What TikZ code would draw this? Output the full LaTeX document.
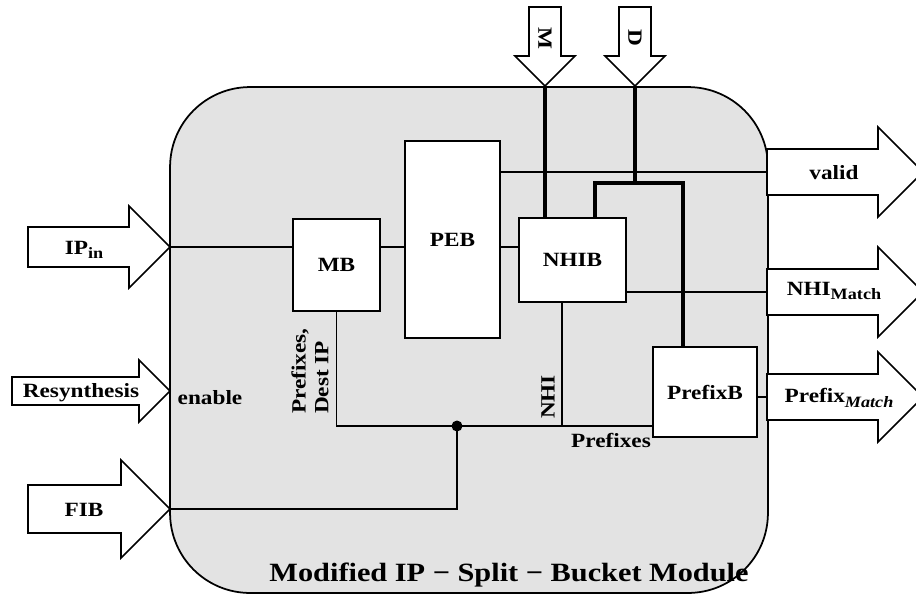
\documentclass[tikz,border=0pt]{standalone}
\usepackage{fontspec}
\setmainfont{Liberation Serif}[FakeStretch=1.15]
\usepackage{xcolor}
\usepackage{tikz}
\usetikzlibrary{positioning,calc}
\newcommand{\fatright}[4]{\draw[fatarrow] (#1) -- ++(-#2,-#2) -- ++(0,#2-#3) -- ++(-#4,0) -- ++(0,2*#3) -- ++(#4,0) -- ++(0,#2-#3) -- cycle;}
\newcommand{\fatdown}[4]{\draw[fatarrow] (#1) -- ++(-#2,-#2) -- ++(#2-#3,0) -- ++(0,-#4) -- ++(2*#3,0) -- ++(0,#4) -- ++(#2-#3,0) -- cycle;}
\newcommand{\lowsub}[1]{\raisebox{-0.45ex}{\fontsize{9}{10}\selectfont #1}}

\begin{document}
\begin{tikzpicture}[x=0.02cm, y=-0.02cm,
    every node/.style={font=\fontsize{11.5}{13}\selectfont\bfseries},
    module/.style={draw, line width=1pt, fill=black!11, rounded corners=1.6cm, minimum width=11.96cm, minimum height=10.12cm},
    block/.style={draw, line width=0.9pt, fill=white, inner sep=0pt},
    fatarrow/.style={draw, line width=0.9pt, fill=white, line join=miter},
    wire/.style={line width=0.85pt},
    thickbus/.style={line width=2.8pt, line join=miter},
    lbl/.style={inner sep=1pt}
]
\useasboundingbox (0,0) rectangle (916,596);
\node[module] (mod) at (469,340) {};
\node[block, minimum width=1.74cm, minimum height=1.84cm] (mb) at (336.5,265) {MB};
\node[block, minimum width=1.9cm, minimum height=3.94cm] (peb) at (452.5,239.5) {PEB};
\node[block, minimum width=2.14cm, minimum height=1.68cm] (nhib) at (572.5,260) {NHIB};
\node[block, minimum width=2.08cm, minimum height=1.8cm] (prefixb) at (705,392) {PrefixB};
\coordinate (ipTip) at (170,247);
\coordinate (resTip) at (170,391);
\coordinate (fibTip) at (170,509);
\coordinate (validTail) at (767,172);
\coordinate (nhiTail) at (767,292);
\coordinate (pfxTail) at (767,397);
\coordinate (validTip) at (923,172);
\coordinate (nhiTip) at (923,292);
\coordinate (pfxTip) at (923,397);
\coordinate (mTip) at (545,86);
\coordinate (dTip) at (635,86);
\coordinate (bus) at (457,426);
\coordinate (nhiDrop) at (562,426);
\coordinate (dJoin) at (635,183);
\coordinate (dLeft) at (595,183);
\coordinate (dRight) at (683,183);
\fatright{ipTip}{41}{20}{101}
\fatright{resTip}{31}{14}{127}
\fatright{fibTip}{49}{24}{93}
\fatright{validTip}{45}{23}{111}
\fatright{nhiTip}{45}{23}{111}
\fatright{pfxTip}{45}{23}{111}
\fatdown{mTip}{30}{16}{49}
\fatdown{dTip}{30}{16}{49}
\node (ipLbl) at (84,250) {IP\lowsub{in}};
\node (resLbl) at (81,393) {Resynthesis};
\node (fibLbl) at (84,510) {FIB};
\node (validLbl) at (834,173) {valid};
\node (nhiLbl) at (834,291) {NHI\lowsub{Match}};
\node (pfxLbl) at (839,398) {Prefix\lowsub{\itshape Match}};
\node[rotate=-90] (mLbl) at (545,38) {M};
\node[rotate=-90] (dLbl) at (635,38) {D};
\node (enLbl) at (210,398) {enable};
\node[rotate=90, anchor=west, align=left, lbl] (mbOut) at (310,416) {Prefixes,\\Dest IP};
\node[rotate=90, lbl] (nhiOut) at (548,397) {NHI};
\node (pfxIn) at (611,440) {Prefixes};
\node[font=\fontsize{15}{18}\selectfont\bfseries] (title) at (509,575) {Modified IP − Split − Bucket Module};
\draw[wire] (ipTip) -- (ipTip -| mb.west);
\draw[wire] (mb.east |- ipTip) -- (peb.west |- ipTip);
\draw[wire] (peb.east |- ipTip) -- (nhib.west |- ipTip);
\draw[wire] (peb.east |- validTail) -- (validTail);
\draw[wire] (nhib.east |- nhiTail) -- (nhiTail);
\draw[wire] (prefixb.east |- pfxTail) -- (pfxTail);
\draw[wire] (mb.south) |- (bus -| prefixb.west);
\draw[wire] (fibTip) -| (bus);
\draw[wire] (nhiDrop |- nhib.south) -- (nhiDrop);
\fill (bus) circle[radius=0.11cm];
\draw[thickbus] (mTip) -- (mTip |- nhib.north);
\draw[thickbus] (dTip) -- (dJoin);
\draw[thickbus] (dLeft |- nhib.north) -- (dLeft) -- (dRight) -- (dRight |- prefixb.north);
\end{tikzpicture}
\end{document}
